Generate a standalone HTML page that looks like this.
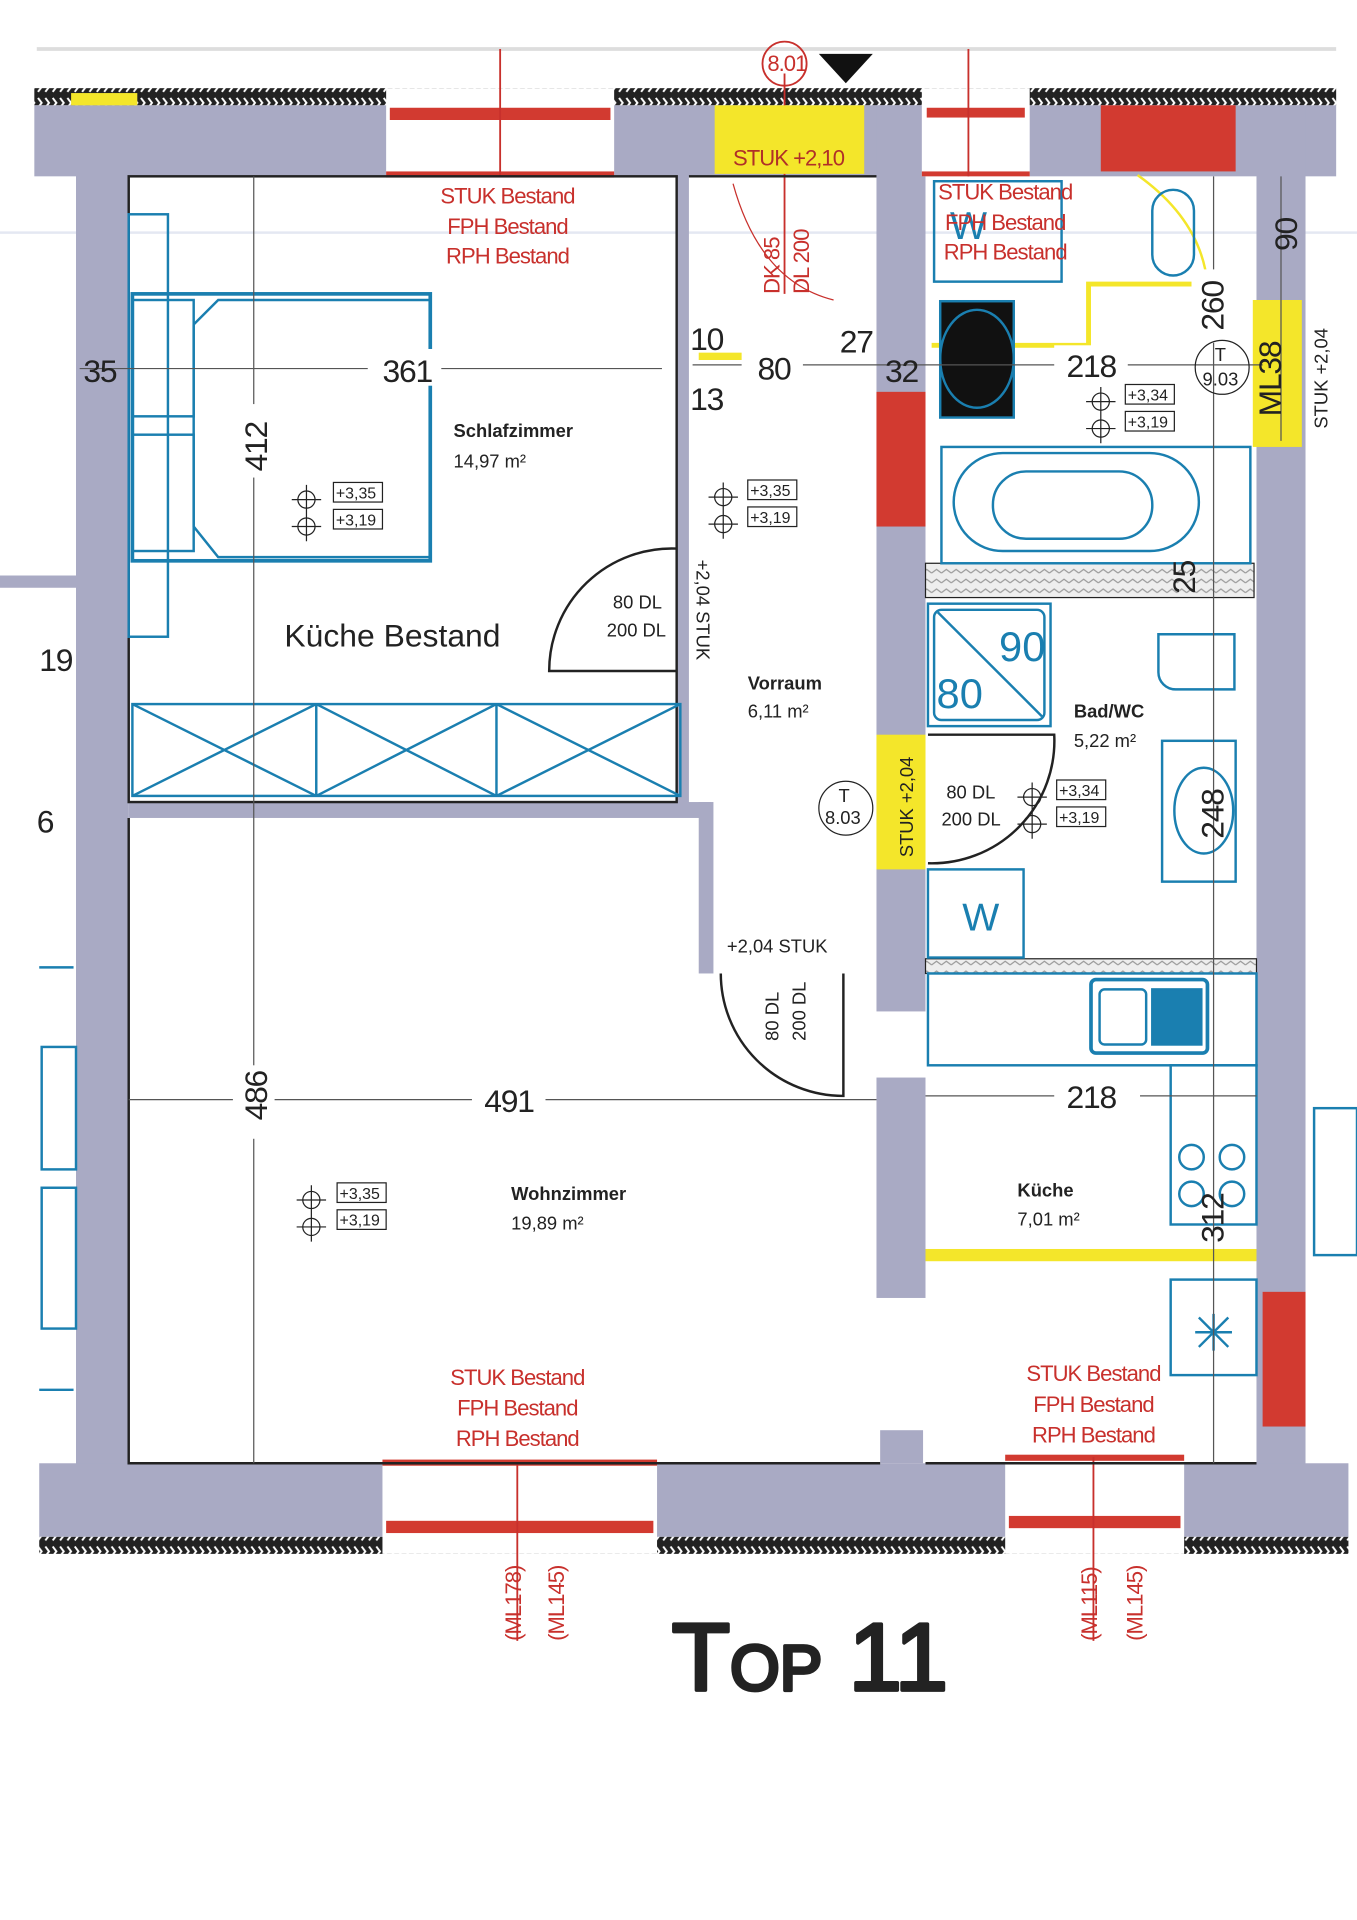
<!DOCTYPE html>
<html><head><meta charset="utf-8"><style>
html,body{margin:0;padding:0;background:#fff;width:1357px;height:1920px;overflow:hidden}
svg{display:block}
text{font-family:"Liberation Sans",sans-serif}
.r{fill:#c8302c;font-size:18px;letter-spacing:-0.8px}
.d{fill:#222;font-size:26px;letter-spacing:-1px}
.s{fill:#222;font-size:15px}
.b{fill:none;stroke:#1a7fb0;stroke-width:2}
</style></head><body>
<svg width="1357" height="1920" viewBox="0 0 1107 1568" preserveAspectRatio="none">
<defs>
<pattern id="h" width="6" height="13" patternUnits="userSpaceOnUse"><rect width="6" height="13" fill="#222"/><path d="M1 2 L4 6 L1 10" stroke="#fff" stroke-width="1.6" fill="none"/></pattern>
<pattern id="h2" width="8" height="8" patternUnits="userSpaceOnUse"><rect width="8" height="8" fill="#eee"/><path d="M0 4 L4 1 L8 4" stroke="#999" fill="none"/></pattern>
</defs>
<rect width="1107" height="1568" fill="#fff"/>
<line x1="30" y1="40" x2="1090" y2="40" stroke="#ddd" stroke-width="3"/>
<line x1="0" y1="190" x2="1107" y2="190" stroke="#e4e8f2" stroke-width="2"/>
<rect x="28" y="72" width="1062" height="14" fill="url(#h)"/>
<rect x="32" y="1255" width="1068" height="14" fill="url(#h)"/>
<g fill="#a9aac4">
<rect x="28" y="86" width="1062" height="58"/>
<rect x="62" y="86" width="43" height="1165"/>
<rect x="1025" y="86" width="40" height="1110"/>
<rect x="32" y="1195" width="1068" height="60"/>
<rect x="715" y="86" width="40" height="740"/>
<rect x="715" y="880" width="40" height="180"/>
<rect x="718" y="1168" width="35" height="27"/>
<rect x="105" y="655" width="475" height="13"/>
<rect x="570" y="655" width="12" height="140"/>
<rect x="552" y="142" width="10" height="515"/>
<rect x="0" y="470" width="62" height="10"/>
</g>
<g fill="#fff"><rect x="315" y="72" width="186" height="72"/><rect x="752" y="72" width="88" height="72"/><rect x="312" y="1195" width="224" height="74"/><rect x="820" y="1195" width="146" height="74"/></g>
<g fill="#d23a30">
<rect x="318" y="88" width="180" height="10"/><rect x="315" y="140" width="186" height="5"/>
<rect x="756" y="88" width="80" height="8"/><rect x="752" y="140" width="88" height="4"/>
<rect x="315" y="1242" width="218" height="10"/><rect x="312" y="1192" width="224" height="5"/>
<rect x="823" y="1238" width="140" height="10"/><rect x="820" y="1188" width="146" height="5"/>
<rect x="898" y="86" width="110" height="54"/><rect x="715" y="320" width="40" height="110"/><rect x="1030" y="1055" width="35" height="110"/>
</g>
<g stroke="#c8302c" stroke-width="1.5"><line x1="408" y1="40" x2="408" y2="144"/><line x1="790" y1="40" x2="790" y2="144"/><line x1="422" y1="1195" x2="422" y2="1340"/><line x1="892" y1="1190" x2="892" y2="1340"/><line x1="640" y1="60" x2="640" y2="240"/></g>
<g fill="#f4e62a"><rect x="583" y="86" width="122" height="56"/><rect x="1022" y="245" width="40" height="120"/><rect x="715" y="600" width="40" height="110"/><rect x="58" y="76" width="54" height="10"/><rect x="755" y="1020" width="270" height="10"/><rect x="570" y="288" width="45" height="6"/></g>
<polyline points="760,282 888,282 888,232 985,232" stroke="#f4e62a" stroke-width="4" fill="none"/>
<path d="M928 143 Q980 180 985 232" stroke="#f4e62a" stroke-width="2" fill="none"/>
<polygon points="668,44 712,44 690,68" fill="#111"/>
<circle cx="640" cy="52" r="18" fill="none" stroke="#c8302c" stroke-width="1.5"/>
<text x="626" y="58" class="r" font-size="16">8.01</text>
<text x="598" y="135" font-size="18" fill="#b03028" letter-spacing="-0.8">STUK +2,10</text>
<text transform="translate(636,240) rotate(-90)" class="r" font-size="16">DK 85</text>
<text transform="translate(660,240) rotate(-90)" class="r" font-size="16">DL 200</text>
<path d="M598 150 Q620 230 680 245" stroke="#c8302c" fill="none"/>
<g stroke="#222" stroke-width="2" fill="none"><rect x="105" y="144" width="447" height="511"/><polyline points="562,144 715,144"/><polyline points="105,668 105,1195 718,1195"/><polyline points="755,1195 1025,1195"/></g>
<rect x="755" y="460" width="268" height="28" fill="url(#h2)" stroke="#222"/>
<rect x="755" y="783" width="270" height="12" fill="url(#h2)" stroke="#222"/>
<g class="b">
<rect x="105" y="175" width="32" height="345"/><rect x="108" y="240" width="243" height="218" stroke-width="3"/>
<rect x="108" y="245" width="50" height="95"/><rect x="108" y="355" width="50" height="95"/><polyline points="158,265 158,430 178,455 351,455"/><polyline points="158,265 178,245 351,245"/>
<rect x="108" y="575" width="447" height="75"/><path d="M108 575 L258 650 M258 575 L108 650 M258 575 L405 650 M405 575 L258 650 M405 575 L555 650 M555 575 L405 650 M258 575 L258 650 M405 575 L405 650"/>
<rect x="762" y="148" width="104" height="82"/><rect x="940" y="155" width="34" height="70" rx="17"/>
<rect x="767" y="246" width="60" height="95" fill="#111"/><ellipse cx="797" cy="293" rx="30" ry="40"/>
<rect x="768" y="365" width="252" height="95"/><rect x="778" y="370" width="200" height="80" rx="40"/><rect x="810" y="385" width="130" height="55" rx="27"/>
<rect x="757" y="493" width="100" height="100"/><rect x="762" y="498" width="90" height="90" rx="6"/><line x1="765" y1="500" x2="850" y2="585"/>
<path d="M945 518 h62 v45 h-48 a14 14 0 0 1 -14 -14z"/><rect x="948" y="605" width="60" height="115"/><ellipse cx="982" cy="662" rx="24" ry="35"/>
<rect x="757" y="710" width="78" height="72"/><rect x="757" y="795" width="268" height="75"/><rect x="890" y="800" width="95" height="60" rx="4" stroke-width="3"/><rect x="940" y="808" width="40" height="45" fill="#1a7fb0"/><rect x="897" y="808" width="38" height="45" rx="4"/>
<rect x="955" y="870" width="70" height="130"/><circle cx="972" cy="945" r="10"/><circle cx="1005" cy="945" r="10"/><circle cx="972" cy="975" r="10"/><circle cx="1005" cy="975" r="10"/>
<rect x="955" y="1045" width="70" height="78"/><path d="M975 1088 h30 M990 1073 v30 M978 1076 l24 24 M1002 1076 l-24 24"/>
<line x1="32" y1="790" x2="60" y2="790"/><rect x="34" y="855" width="28" height="100"/><rect x="34" y="970" width="28" height="115"/><line x1="32" y1="1135" x2="60" y2="1135"/><rect x="1072" y="905" width="35" height="120"/>
</g>
<text x="775" y="195" fill="#1a7fb0" font-size="32">W</text><text x="785" y="760" fill="#1a7fb0" font-size="32">W</text>
<text x="815" y="540" fill="#1a7fb0" font-size="34">90</text><text x="764" y="578" fill="#1a7fb0" font-size="34">80</text>
<g stroke="#555" stroke-width="1"><line x1="65" y1="301" x2="540" y2="301"/><line x1="565" y1="298" x2="1030" y2="298"/><line x1="207" y1="144" x2="207" y2="1195"/><line x1="105" y1="898" x2="715" y2="898"/><line x1="755" y1="895" x2="1025" y2="895"/><line x1="990" y1="144" x2="990" y2="1195"/><line x1="1045" y1="144" x2="1045" y2="360"/></g>
<g fill="#fff"><rect x="300" y="285" width="60" height="30"/><rect x="605" y="283" width="50" height="30"/><rect x="860" y="282" width="60" height="30"/><rect x="190" y="330" width="34" height="60"/><rect x="190" y="870" width="34" height="60"/><rect x="385" y="882" width="60" height="32"/><rect x="860" y="878" width="70" height="32"/><rect x="972" y="220" width="34" height="60"/></g>
<text x="312" y="312" class="d">361</text><text x="618" y="310" class="d">80</text><text x="870" y="308" class="d">218</text><text x="395" y="908" class="d">491</text><text x="870" y="905" class="d">218</text>
<text x="68" y="312" class="d">35</text><text x="685" y="288" class="d">27</text><text x="722" y="312" class="d">32</text><text x="563" y="286" class="d" font-size="22">10</text><text x="563" y="335" class="d" font-size="22">13</text>
<text x="32" y="548" class="d">19</text><text x="30" y="680" class="d">6</text>
<text transform="translate(218,385) rotate(-90)" class="d">412</text><text transform="translate(218,915) rotate(-90)" class="d">486</text>
<text transform="translate(998,270) rotate(-90)" class="d">260</text><text transform="translate(1058,205) rotate(-90)" class="d">90</text><text transform="translate(975,485) rotate(-90)" class="d" font-size="22">25</text><text transform="translate(998,685) rotate(-90)" class="d" font-size="22">248</text><text transform="translate(998,1015) rotate(-90)" class="d" font-size="22">312</text>
<text transform="translate(1045,340) rotate(-90)" class="d" font-size="22">ML38</text><text transform="translate(1083,350) rotate(-90)" class="s">STUK +2,04</text>
<text transform="translate(745,700) rotate(-90)" class="s" font-size="17">STUK +2,04</text>
<text transform="translate(568,457) rotate(90)" class="s" font-size="17">+2,04 STUK</text>
<text x="593" y="778" class="s" font-size="17">+2,04 STUK</text>
<text transform="translate(635,850) rotate(-90)" class="s" font-size="17">80 DL</text><text transform="translate(657,850) rotate(-90)" class="s" font-size="17">200 DL</text>
<g stroke="#222" stroke-width="2" fill="none"><path d="M552 448 A100 100 0 0 0 448 548 L552 548"/><path d="M588 795 A100 100 0 0 0 688 895 L688 795"/><path d="M757 600 L860 600 A100 100 0 0 1 757 705"/></g>
<text x="500" y="497" class="s" font-size="17">80 DL</text><text x="495" y="520" class="s" font-size="17">200 DL</text>
<text x="772" y="652" class="s" font-size="17">80 DL</text><text x="768" y="674" class="s" font-size="17">200 DL</text>
<circle cx="690" cy="660" r="22" fill="none" stroke="#222"/><text x="684" y="655" class="s">T</text><text x="673" y="673" class="s">8.03</text>
<circle cx="997" cy="300" r="22" fill="none" stroke="#222"/><text x="991" y="295" class="s">T</text><text x="981" y="315" class="s">9.03</text>
<g stroke="#222" fill="none">
<rect x="272" y="394" width="40" height="16"/><rect x="272" y="416" width="40" height="16"/><circle cx="250" cy="408" r="7"/><circle cx="250" cy="430" r="7"/>
<rect x="610" y="392" width="40" height="16"/><rect x="610" y="414" width="40" height="16"/><circle cx="590" cy="406" r="7"/><circle cx="590" cy="428" r="7"/>
<rect x="918" y="314" width="40" height="16"/><rect x="918" y="336" width="40" height="16"/><circle cx="898" cy="328" r="7"/><circle cx="898" cy="350" r="7"/>
<rect x="862" y="637" width="40" height="16"/><rect x="862" y="659" width="40" height="16"/><circle cx="842" cy="651" r="7"/><circle cx="842" cy="673" r="7"/>
<rect x="275" y="966" width="40" height="16"/><rect x="275" y="988" width="40" height="16"/><circle cx="254" cy="980" r="7"/><circle cx="254" cy="1002" r="7"/>
<path d="M250 396 v46 M238 408 h24 M238 430 h24 M590 394 v46 M578 406 h24 M578 428 h24 M898 316 v46 M886 328 h24 M886 350 h24 M842 639 v46 M830 651 h24 M830 673 h24 M254 968 v46 M242 980 h24 M242 1002 h24"/>
</g>
<g font-size="13" fill="#222"><text x="274" y="407">+3,35</text><text x="274" y="429">+3,19</text><text x="612" y="405">+3,35</text><text x="612" y="427">+3,19</text><text x="920" y="327">+3,34</text><text x="920" y="349">+3,19</text><text x="864" y="650">+3,34</text><text x="864" y="672">+3,19</text><text x="277" y="979">+3,35</text><text x="277" y="1001">+3,19</text></g>
<g class="r" text-anchor="middle">
<text x="414" y="166">STUK Bestand</text><text x="414" y="191">FPH Bestand</text><text x="414" y="215">RPH Bestand</text>
<text x="820" y="163">STUK Bestand</text><text x="820" y="188">FPH Bestand</text><text x="820" y="212">RPH Bestand</text>
<text x="422" y="1131">STUK Bestand</text><text x="422" y="1156">FPH Bestand</text><text x="422" y="1181">RPH Bestand</text>
<text x="892" y="1128">STUK Bestand</text><text x="892" y="1153">FPH Bestand</text><text x="892" y="1178">RPH Bestand</text>
</g>
<text transform="translate(425,1340) rotate(-90)" class="r" font-size="16">(ML178)</text><text transform="translate(460,1340) rotate(-90)" class="r" font-size="16">(ML145)</text>
<text transform="translate(895,1340) rotate(-90)" class="r" font-size="16">(ML115)</text><text transform="translate(932,1340) rotate(-90)" class="r" font-size="16">(ML145)</text>
<g fill="#222"><text x="370" y="357" font-size="15" font-weight="bold">Schlafzimmer</text><text x="370" y="382" font-size="15">14,97 m²</text>
<text x="610" y="563" font-size="15" font-weight="bold">Vorraum</text><text x="610" y="586" font-size="15">6,11 m²</text>
<text x="876" y="586" font-size="15" font-weight="bold">Bad/WC</text><text x="876" y="610" font-size="15">5,22 m²</text>
<text x="417" y="980" font-size="15" font-weight="bold">Wohnzimmer</text><text x="417" y="1004" font-size="15">19,89 m²</text>
<text x="830" y="977" font-size="15" font-weight="bold">Küche</text><text x="830" y="1001" font-size="15">7,01 m²</text>
<text x="232" y="528" font-size="26">Küche Bestand</text></g>
<text x="548" y="1380" font-size="78" fill="#222" stroke="#222" stroke-width="3" stroke-linejoin="round">T<tspan font-size="52">OP</tspan> 11</text>
</svg>
</body></html>
